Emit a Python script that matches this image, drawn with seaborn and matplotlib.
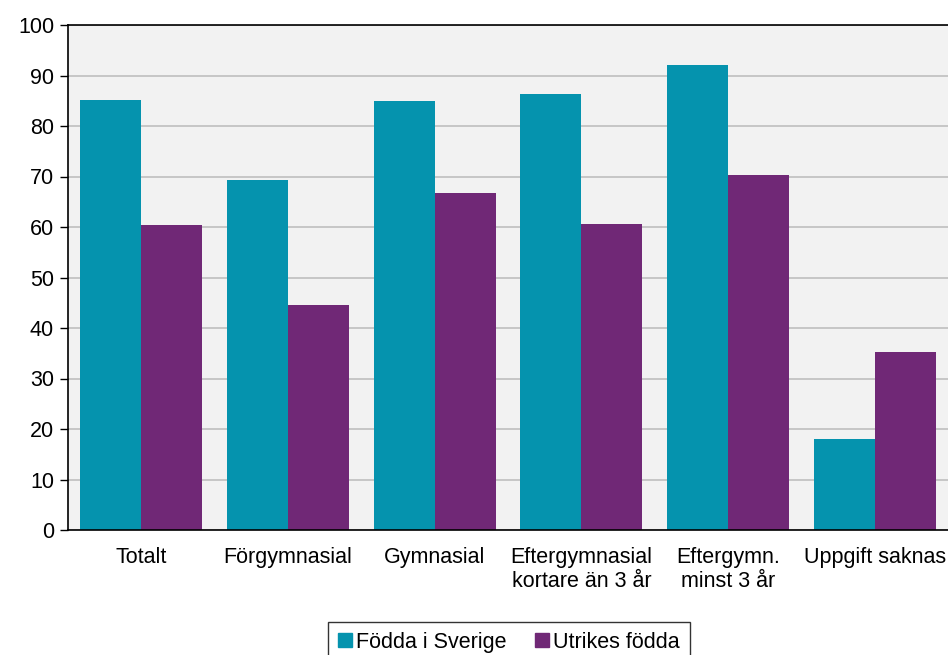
import matplotlib
matplotlib.use("Agg")
import matplotlib.pyplot as plt
import seaborn as sns
import pandas as pd

categories = [
    "Totalt",
    "Förgymnasial",
    "Gymnasial",
    "Eftergymnasial\nkortare än 3 år",
    "Eftergymn.\nminst 3 år",
    "Uppgift saknas",
]
fodda_i_sverige = [85.1, 69.3, 85.0, 86.3, 92.1, 18.0]
utrikes_fodda = [60.4, 44.6, 66.7, 60.6, 70.3, 35.2]
series_names = ["Födda i Sverige", "Utrikes födda"]
colors = ["#0593ae", "#702876"]

df = pd.DataFrame({
    "kategori": categories * 2,
    "grupp": [series_names[0]] * len(categories) + [series_names[1]] * len(categories),
    "varde": fodda_i_sverige + utrikes_fodda,
})

sns.set_theme(style="white")
plt.rcParams["font.family"] = ["Liberation Sans", "DejaVu Sans"]
plt.rcParams["text.color"] = "black"
plt.rcParams["xtick.color"] = "black"
plt.rcParams["ytick.color"] = "black"

fig = plt.figure(figsize=(9.48, 6.55), dpi=100)
ax = fig.add_axes([68 / 948, 1 - 530 / 655, 1 - 68 / 948, 505 / 655])
ax.set_facecolor("#f2f2f2")

sns.barplot(data=df, x="kategori", y="varde", hue="grupp", palette=colors,
            width=0.83, saturation=1, linewidth=0, ax=ax, legend=False)

ax.set_ylim(0, 100)
ax.set_xlim(-0.5, 5.5)
ax.set_yticks(range(0, 101, 10))
ax.yaxis.grid(True, color="#bfbfbf", linewidth=1.2)
ax.set_axisbelow(True)
ax.set_xlabel("")
ax.set_ylabel("")

for side in ["left", "bottom", "top"]:
    ax.spines[side].set_visible(True)
    ax.spines[side].set_color("black")
    ax.spines[side].set_linewidth(1.2)
ax.spines["right"].set_visible(False)

ax.tick_params(axis="y", length=6, width=1, colors="black", labelsize=15.5, pad=4, left=True)
ax.tick_params(axis="x", length=0, colors="black", labelsize=15.5, pad=12)

handles = [plt.Rectangle((0, 0), 1, 1, color=c) for c in colors]
leg = fig.legend(handles, series_names, loc="upper center",
                 bbox_to_anchor=(509 / 948, 1 - 622 / 655), ncol=2,
                 fontsize=15.5, frameon=True, fancybox=False,
                 handlelength=0.65, handleheight=0.65, handletextpad=0.2,
                 columnspacing=1.3, borderpad=0.45, borderaxespad=0)
leg.get_frame().set_edgecolor("black")
leg.get_frame().set_linewidth(1)

fig.savefig("out.png", dpi=100)
